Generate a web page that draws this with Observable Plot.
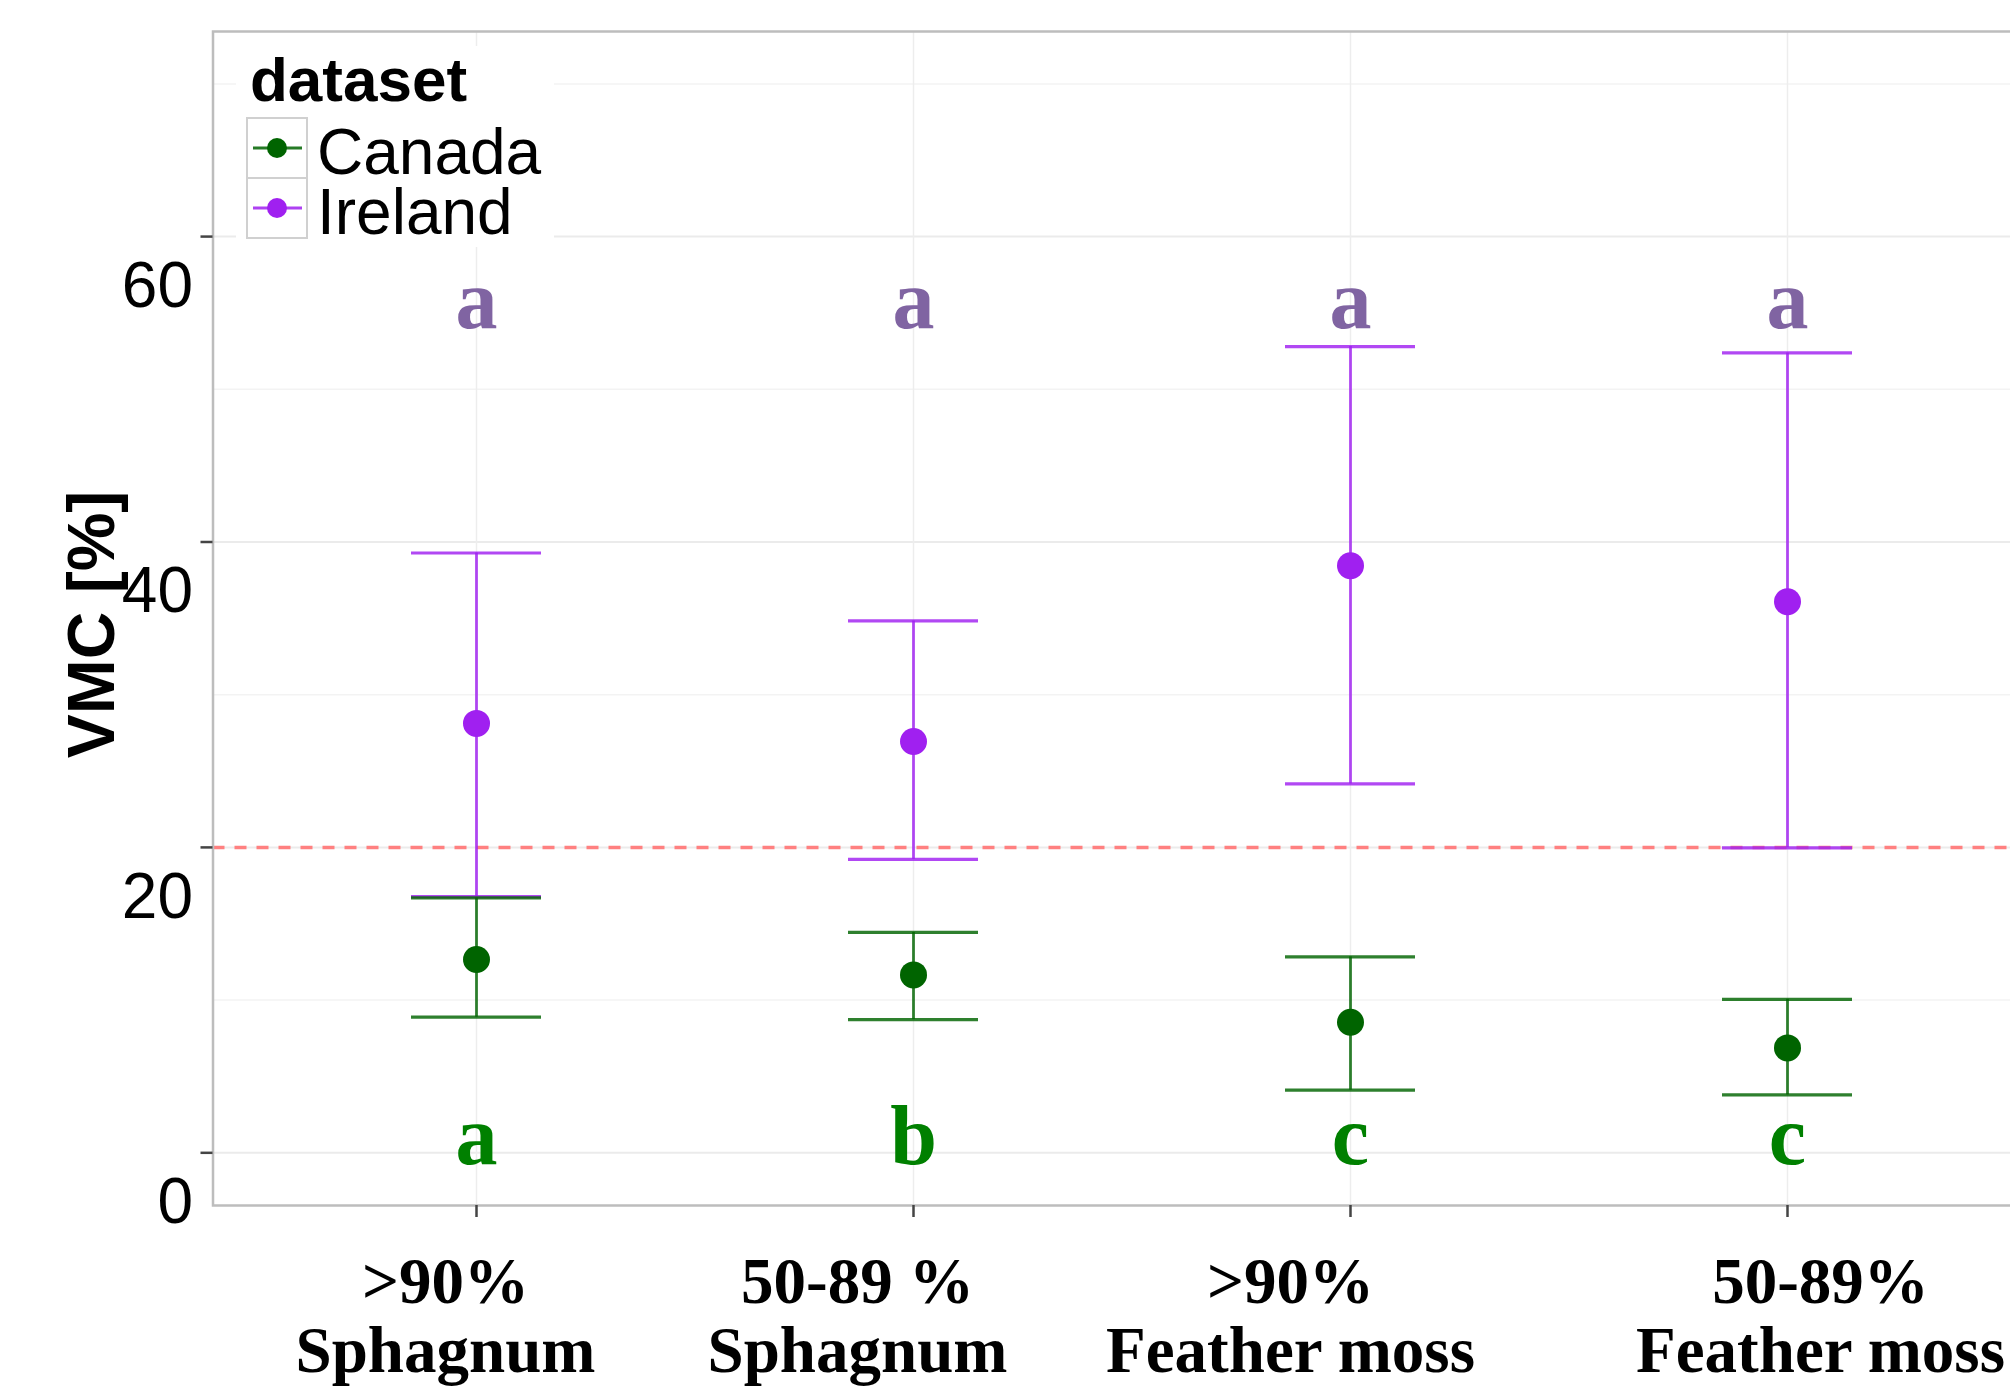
<!DOCTYPE html>
<html>
<head>
<meta charset="utf-8">
<script src="https://cdn.jsdelivr.net/npm/d3@7"></script>
<script src="https://cdn.jsdelivr.net/npm/@observablehq/plot@0.6"></script>
<style>
  html, body { margin: 0; padding: 0; background: white; overflow: hidden; }
  #wrap { width: 2010px; height: 1391px; overflow: hidden; position: relative; background: white; }
  #wrap svg { max-width: none !important; }
</style>
</head>
<body>
<div id="wrap"></div>
<script>
// ---- data ----
const categories = [">90% Sphagnum", "50-89 % Sphagnum", ">90% Feather moss", "50-89% Feather moss"];
const categoryLabels = [">90%\nSphagnum", "50-89 %\nSphagnum", ">90%\nFeather moss", "50-89%\nFeather moss"];
const datasets = ["Canada", "Ireland"];
const canadaMean  = [12.66, 11.65, 8.55, 6.87];
const canadaLower = [8.88, 8.72, 4.10, 3.79];
const canadaUpper = [16.70, 14.43, 12.83, 10.05];
const irelandMean  = [28.12, 26.94, 38.44, 36.09];
const irelandLower = [16.78, 19.21, 24.16, 19.97];
const irelandUpper = [39.28, 34.83, 52.80, 52.38];
const threshold = [20];
const irelandLetters = ["a", "a", "a", "a"];
const canadaLetters  = ["a", "b", "c", "c"];
const yTicks = [0, 20, 40, 60];
const yMinorTicks = [10, 30, 50, 70];

// ---- tables built from the arrays ----
const rows = [
  ...categories.map((c, i) => ({category: c, dataset: "Canada", mean: canadaMean[i], lower: canadaLower[i], upper: canadaUpper[i]})),
  ...categories.map((c, i) => ({category: c, dataset: "Ireland", mean: irelandMean[i], lower: irelandLower[i], upper: irelandUpper[i]}))
];
const letterRows = [
  ...categories.map((c, i) => ({category: c, group: "Ireland", letter: irelandLetters[i]})),
  ...categories.map((c, i) => ({category: c, group: "Canada", letter: canadaLetters[i]}))
];

// ---- styling ----
const colors = {Canada: "#006400", Ireland: "#A020F0"};
const letterColors = {Canada: "#008000", Ireland: "#8064A2"};
const letterLevel = {Ireland: 55.8, Canada: 1.0};
const labelShift = [-31, -56, -60, 33];
const serif = "'Liberation Serif', 'Times New Roman', serif";
const sans = "'Liberation Sans', Arial, sans-serif";

const chart = Plot.plot({
  width: 2051,
  height: 1391,
  marginLeft: 212.5,
  marginRight: 1,
  marginTop: 31,
  marginBottom: 186,
  style: {background: "white", color: "black", overflow: "visible", maxWidth: "none"},
  x: {type: "band", domain: categories, paddingInner: 0.703, paddingOuter: 0.4514, axis: null, label: null},
  y: {domain: [-3.45, 73.43], axis: null, label: null},
  color: {domain: datasets, range: datasets.map(d => colors[d])},
  marks: [
    Plot.gridY({ticks: yMinorTicks, stroke: "#F3F3F3", strokeOpacity: 1, strokeWidth: 1.5}),
    Plot.gridY({ticks: yTicks, stroke: "#EBEBEB", strokeOpacity: 1, strokeWidth: 2}),
    Plot.gridX({ticks: categories, stroke: "#EDEDED", strokeOpacity: 1, strokeWidth: 1.5}),
    Plot.ruleY(threshold, {stroke: "#FF8080", strokeWidth: 3.5, strokeDasharray: "12,10"}),
    Plot.ruleX(rows, {x: "category", y1: "lower", y2: "upper", stroke: "dataset", strokeWidth: 2.8, strokeOpacity: 0.82}),
    Plot.tickY(rows, {x: "category", y: "lower", stroke: "dataset", strokeWidth: 3.2, strokeOpacity: 0.82}),
    Plot.tickY(rows, {x: "category", y: "upper", stroke: "dataset", strokeWidth: 3.2, strokeOpacity: 0.82}),
    Plot.dot(rows, {x: "category", y: "mean", fill: "dataset", r: 13.5}),
    Plot.text(letterRows, {
      x: "category", y: d => letterLevel[d.group], text: "letter",
      fill: d => letterColors[d.group], fontSize: 84, fontFamily: serif, fontWeight: "bold"
    }),
    Plot.frame({stroke: "#BDBDBD", strokeWidth: 2.5}),
    Plot.axisY({ticks: yTicks, tickSize: 12, tickFormat: () => "", label: null, stroke: "#444", strokeWidth: 2.5}),
    Plot.axisY({ticks: yTicks, tickSize: 0, tickPadding: 20, dy: 50, label: null, fontSize: 64, fontFamily: sans, fill: "black"}),
    Plot.axisX({ticks: categories, tickSize: 12, tickFormat: () => "", label: null, stroke: "#444", strokeWidth: 2.5}),
    ...categories.map((c, i) => Plot.text([c], {
      x: d => d, text: () => categoryLabels[i], frameAnchor: "bottom", lineAnchor: "top",
      dy: 48, dx: labelShift[i], fontSize: 65, lineHeight: 1.07, fontFamily: serif, fontWeight: "bold", fill: "black"
    })),
    Plot.text(["VMC [%]"], {
      text: d => d, frameAnchor: "left", textAnchor: "middle", rotate: -90, dx: -120, dy: 6,
      fontSize: 66, fontWeight: "bold", fontFamily: sans, fill: "black"
    })
  ]
});
chart.style.maxWidth = "none";
chart.style.height = "1391px";

// ---- legend (inside the panel, top-left) ----
const g = d3.select(chart).append("g").attr("class", "legend").attr("text-anchor", "start");
g.append("rect").attr("x", 236).attr("y", 46).attr("width", 318).attr("height", 201).attr("fill", "white");
g.append("text").attr("x", 250).attr("y", 101).text("dataset")
  .attr("font-family", sans).attr("font-size", 62).attr("font-weight", "bold").attr("fill", "black");
datasets.forEach((d, i) => {
  const y0 = 118 + i * 60;
  g.append("rect").attr("x", 247).attr("y", y0).attr("width", 60).attr("height", 60)
    .attr("fill", "white").attr("stroke", "#D0D0D0").attr("stroke-width", 2);
  g.append("line").attr("x1", 253).attr("x2", 302).attr("y1", y0 + 30).attr("y2", y0 + 30)
    .attr("stroke", colors[d]).attr("stroke-width", 3).attr("stroke-opacity", 0.85);
  g.append("circle").attr("cx", 277).attr("cy", y0 + 30).attr("r", 10).attr("fill", colors[d]);
  g.append("text").attr("x", 317).attr("y", y0 + 56).text(d)
    .attr("font-family", sans).attr("font-size", 64).attr("fill", "black");
});

document.getElementById("wrap").appendChild(chart);
</script>
</body>
</html>
